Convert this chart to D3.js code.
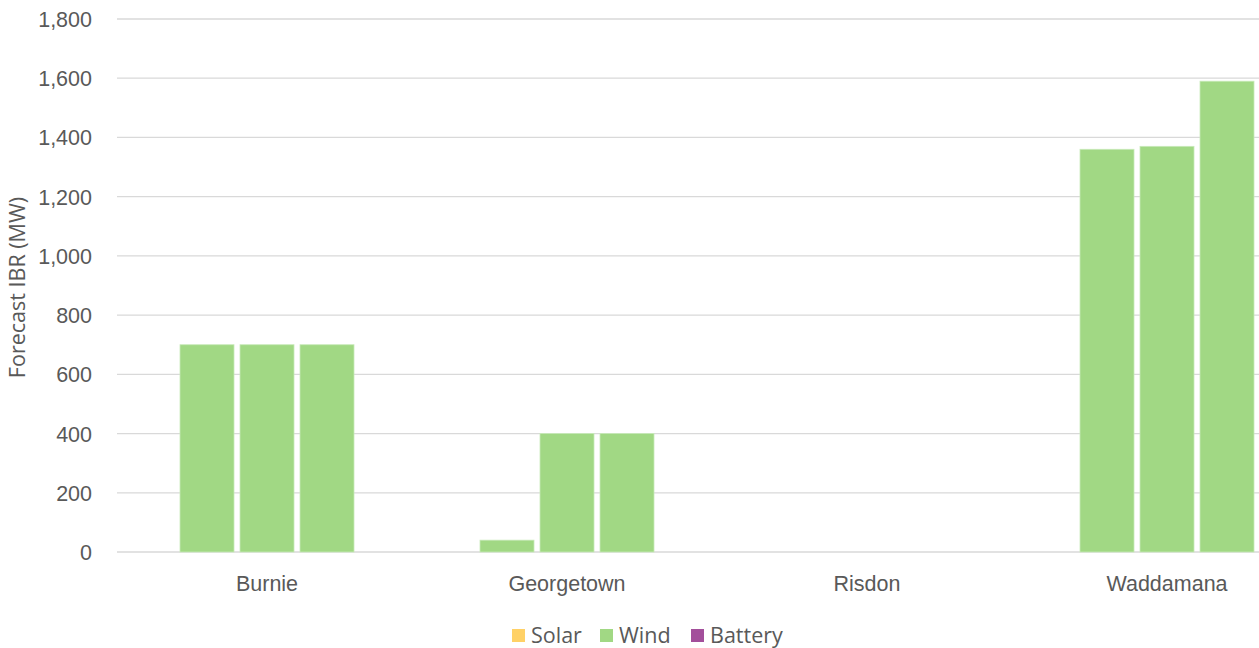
<!DOCTYPE html>
<html>
<head>
<meta charset="utf-8">
<script src="https://cdn.jsdelivr.net/npm/d3@7"></script>
<style>
  html, body { margin: 0; padding: 0; background: #fff; overflow: hidden; }
  svg { display: block; font-family: "Open Sans", "Noto Sans", sans-serif; }
</style>
</head>
<body>
<svg id="chart" width="1259" height="648"></svg>
<script>
// Substations and forecast inverter-based resources (MW), three scenarios per substation
const regions = ["Burnie", "Georgetown", "Risdon", "Waddamana"];
const scenarios = ["s1", "s2", "s3"];
const technologies = ["Solar", "Wind", "Battery"];
const techColors = ["#ffd166", "#a1d884", "#a34f9b"];

// values per region, one entry per scenario
const solarMW   = [[0, 0, 0], [0, 0, 0], [0, 0, 0], [0, 0, 0]];
const windMW    = [[700, 700, 700], [40, 400, 400], [0, 0, 0], [1360, 1370, 1590]];
const batteryMW = [[0, 0, 0], [0, 0, 0], [0, 0, 0], [0, 0, 0]];

const yTicks = [0, 200, 400, 600, 800, 1000, 1200, 1400, 1600, 1800];

const svg = d3.select("#chart");
const textColor = "#595959";
const fontSize = 21.5;

const plotLeft = 117, plotTop = 19, plotBottom = 552;
const bandStep = 300;

const x = d3.scaleBand()
  .domain(regions)
  .range([plotLeft, plotLeft + bandStep * regions.length])
  .paddingInner(0).paddingOuter(0);

const xSub = d3.scaleBand()
  .domain(scenarios)
  .range([63, bandStep - 63])
  .paddingInner(0.1).paddingOuter(0);

const y = d3.scaleLinear().domain([0, 1800]).range([plotBottom, plotTop]);

// gridlines
svg.append("g")
  .selectAll("line")
  .data(yTicks)
  .join("line")
  .attr("x1", plotLeft)
  .attr("x2", 1259)
  .attr("y1", d => y(d))
  .attr("y2", d => y(d))
  .attr("stroke", "#d9d9d9")
  .attr("stroke-width", 1.3);

// y axis labels
const yAxis = svg.append("g")
  .attr("transform", `translate(${plotLeft - 22},0)`)
  .call(d3.axisLeft(y).tickValues(yTicks).tickSize(0).tickFormat(d3.format(",")));
yAxis.select(".domain").remove();
yAxis.selectAll("text")
  .attr("fill", textColor)
  .attr("font-size", fontSize)
  .attr("dx", 0)
  .attr("dy", "0.35em");

// x axis labels
const xAxis = svg.append("g")
  .attr("transform", `translate(0,${plotBottom + 39})`)
  .call(d3.axisBottom(x).tickSize(0));
xAxis.select(".domain").remove();
xAxis.selectAll("text")
  .attr("fill", textColor)
  .attr("font-size", fontSize)
  .attr("y", 0)
  .attr("dy", 0);

// stacked bars
const techData = [solarMW, windMW, batteryMW];
const rows = [];
regions.forEach((r, ri) => {
  scenarios.forEach((s, si) => {
    let base = 0;
    technologies.forEach((t, ti) => {
      const v = techData[ti][ri][si];
      rows.push({ region: r, scenario: s, tech: ti, y0: base, y1: base + v });
      base += v;
    });
  });
});

svg.append("g")
  .selectAll("rect")
  .data(rows.filter(d => d.y1 > d.y0))
  .join("rect")
  .attr("x", d => x(d.region) + xSub(d.scenario))
  .attr("width", xSub.bandwidth())
  .attr("y", d => y(d.y1))
  .attr("height", d => y(d.y0) - y(d.y1))
  .attr("fill", d => techColors[d.tech])
  .attr("stroke", "#c8eab9")
  .attr("stroke-width", 0.8);

// y axis title
svg.append("text")
  .attr("transform", `translate(25,${(plotTop + plotBottom) / 2 + 2}) rotate(-90)`)
  .attr("text-anchor", "middle")
  .attr("fill", textColor)
  .attr("font-size", fontSize)
  .text("Forecast IBR (MW)");

// legend
const legendX = [512, 600, 691];
const legend = svg.append("g");
technologies.forEach((t, i) => {
  legend.append("rect")
    .attr("x", legendX[i]).attr("y", 629)
    .attr("width", 13).attr("height", 13)
    .attr("fill", techColors[i]);
  legend.append("text")
    .attr("x", legendX[i] + 19).attr("y", 643)
    .attr("fill", textColor)
    .attr("font-size", fontSize)
    .text(t);
});
</script>
</body>
</html>
